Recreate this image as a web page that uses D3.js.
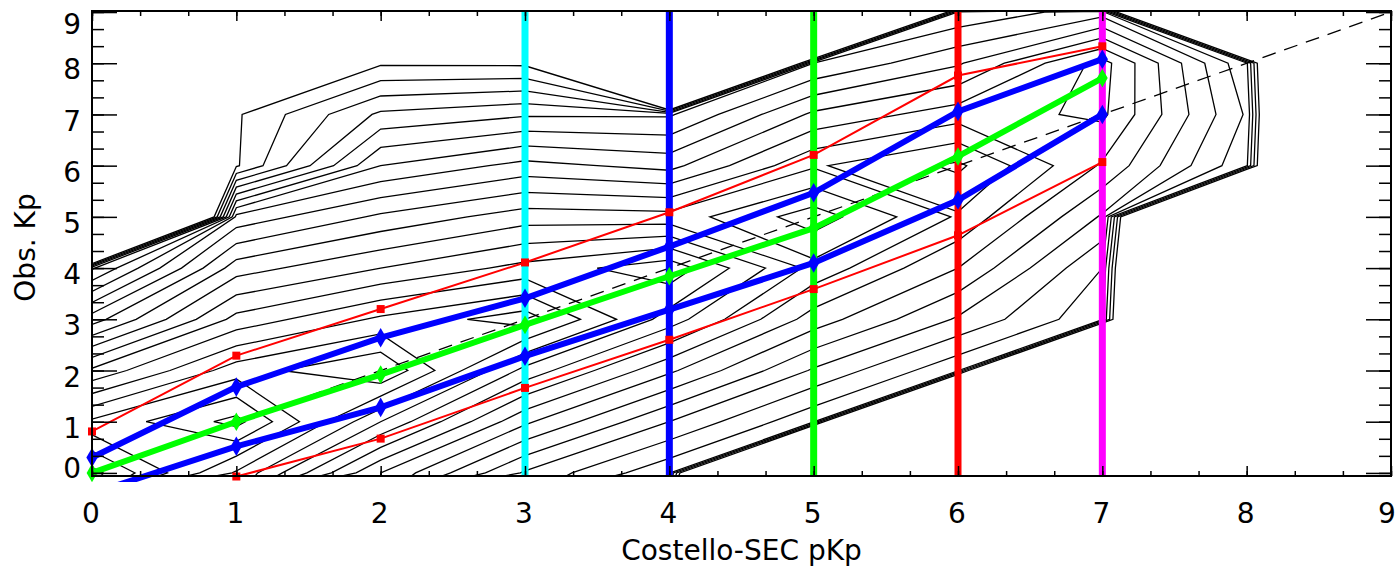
<!DOCTYPE html>
<html lang="en">
<head>
<meta charset="UTF-8">
<script src="https://d3js.org/d3.v7.min.js"></script>
<title>Obs. Kp vs Costello-SEC pKp</title>
<style>
  body { margin: 0; background: #fff; }
  svg { display: block; }
  text { font-family: "DejaVu Sans", sans-serif; fill: #000; }
</style>
</head>
<body>
<div id="chart"></div>
<script>
// empty bin (no samples) -> far below the lowest contour level
const E = -60;

// 2D histogram, contour units; rows = obs. Kp 0..10, columns = pKp 0..9
const pKpBins = [0, 1, 2, 3, 4, 5, 6, 7, 8, 9];
const kpBins = [0, 1, 2, 3, 4, 5, 6, 7, 8, 9, 10];
const counts = [
  [31,   24.3, 15.5,  9.3,  5.3,  E,    E,    E,    E,   E],
  [26.3, 29.5, 21.5, 14.3,  9.5,  5.3,  E,    E,    E,   E],
  [20.3, 25.3, 27.5, 19.5, 14.3,  9.3,  5.3,  E,    E,   E],
  [13.3, 20.5, 23.3, 25.3, 19.3, 13.3,  9.3,  5.3,  E,   E],
  [ 6.3, 16.3, 18.5, 20.5, 22.5, 16.5, 12.5,  6.5,  E,   E],
  [ E,   11.5, 14.3, 16.3, 16.1, 19.3, 15.3,  9.3,  E,   E],
  [ E,    0.3,  9.5, 11.5, 10.5, 15.3, 17.3, 12.3,  5.3, E],
  [ E,    0.3,  5.3,  6.3,  6.3, 11.3, 13.3, 14.3,  6.3, E],
  [ E,    E,    0.3,  0.2,  E,    6.5,  9.3, 14.6,  5.3, E],
  [ E,    E,    E,    E,    E,    E,    5.3,  7.3,  E,   E],
  [ E,    E,    E,    E,    E,    E,    E,    E,    E,   E]
];
const levels = [0.5, 2, 3.5, 5, 6.5, 8, 9.5, 11, 12.5, 14, 15.5, 17, 18.5,
                20, 21.5, 23, 24.5, 26, 27.5, 29, 30.5];

// percentiles of obs. Kp per pKp
const pKp = [0, 1, 2, 3, 4, 5, 6, 7];
const median      = [0.0,  1.0,  1.92, 2.89, 3.84, 4.78, 6.18, 7.71];
const upperQuart  = [0.3,  1.68, 2.64, 3.41, 4.42, 5.47, 7.06, 8.08];
const lowerQuart  = [-0.4, 0.52, 1.28, 2.28, 3.19, 4.1,  5.33, 7.0];
const upperDecile = [0.81, 2.29, 3.2,  4.11, 5.09, 6.21, 7.76, 8.33];
const lowerDecile = [null, -0.07, 0.67, 1.66, 2.6, 3.59, 4.64, 6.07];

const cutValues = [3, 4, 5, 6, 7];
const cutColors = ["#00ffff", "#0000ff", "#00ff00", "#ff0000", "#ff00ff"];

const xTicks = [0, 1, 2, 3, 4, 5, 6, 7, 8, 9];
const yTicks = [0, 1, 2, 3, 4, 5, 6, 7, 8, 9];

const width = 1399, height = 567;
const plotL = 92, plotR = 1391, plotT = 11, plotB = 476;

const svg = d3.select("#chart").append("svg")
    .attr("width", width)
    .attr("height", height);

const x = d3.scaleLinear().domain([0, 9]).range([plotL, plotR]);
const y = d3.scaleLinear().domain([-0.06, 9.02]).range([plotB, plotT]);

const defs = svg.append("defs");
defs.append("clipPath").attr("id", "plotClip")
    .append("rect")
    .attr("x", plotL).attr("y", plotT)
    .attr("width", plotR - plotL).attr("height", plotB - plotT);
defs.append("clipPath").attr("id", "overClip")
    .append("rect")
    .attr("x", plotL - 6).attr("y", plotT)
    .attr("width", plotR - plotL + 6).attr("height", plotB - plotT + 6);

// contours
const grid = d3.contours()
    .size([pKpBins.length, kpBins.length])
    .thresholds(levels)(counts.flat());

const toPlot = d3.geoTransform({
  point(u, v) { this.stream.point(x(u - 0.5), y(v - 0.5)); }
});
const contourPath = d3.geoPath(toPlot);

svg.append("g")
    .attr("clip-path", "url(#plotClip)")
  .selectAll("path")
  .data(grid)
  .enter()
  .append("path")
    .attr("d", contourPath)
    .attr("fill", "none")
    .attr("stroke", "#000")
    .attr("stroke-width", 1.3);

// y = x reference
svg.append("line")
    .attr("clip-path", "url(#plotClip)")
    .attr("x1", x(0)).attr("y1", y(0))
    .attr("x2", x(9)).attr("y2", y(9))
    .attr("stroke", "#000")
    .attr("stroke-width", 1.3)
    .attr("stroke-dasharray", "14,9");

// vertical pKp markers
svg.append("g")
  .selectAll("line")
  .data(cutValues)
  .enter()
  .append("line")
    .attr("x1", d => x(d)).attr("x2", d => x(d))
    .attr("y1", plotT).attr("y2", plotB)
    .attr("stroke", (d, i) => cutColors[i])
    .attr("stroke-width", 7);

// percentile curves
const series = [
  { values: upperDecile, color: "#ff0000", width: 2, symbol: d3.symbolSquare, size: 64 },
  { values: lowerDecile, color: "#ff0000", width: 2, symbol: d3.symbolSquare, size: 64 },
  { values: upperQuart, color: "#0000ff", width: 6, symbol: d3.symbolDiamond, size: 110 },
  { values: lowerQuart, color: "#0000ff", width: 6, symbol: d3.symbolDiamond, size: 110 },
  { values: median, color: "#00ff00", width: 6, symbol: d3.symbolDiamond, size: 100 }
];

const over = svg.append("g").attr("clip-path", "url(#overClip)");

const line = d3.line()
    .defined(d => d[1] !== null)
    .x(d => x(d[0]))
    .y(d => y(d[1]));

series.forEach(s => {
  const pts = pKp.map((p, i) => [p, s.values[i]]);
  over.append("path")
      .attr("d", line(pts))
      .attr("fill", "none")
      .attr("stroke", s.color)
      .attr("stroke-width", s.width);
  over.selectAll(null)
      .data(pts.filter(d => d[1] !== null))
      .enter()
      .append("path")
      .attr("transform", d => `translate(${x(d[0])},${y(d[1])})`)
      .attr("d", d3.symbol().type(s.symbol).size(s.size))
      .attr("fill", s.color);
});

// frame and ticks (inward, thirds as minor)
const minor = d3.range(0, 28).map(i => i / 3);

function ticks(axis, values, size, transform) {
  svg.append("g")
      .attr("transform", transform)
      .call(axis.tickValues(values).tickSize(size).tickFormat(""))
      .call(g => g.select(".domain").remove())
      .selectAll("line")
      .attr("stroke", "#000")
      .attr("stroke-width", 1.5);
}

ticks(d3.axisBottom(x), xTicks, -10, `translate(0,${plotB})`);
ticks(d3.axisBottom(x), minor, -5, `translate(0,${plotB})`);
ticks(d3.axisTop(x), xTicks, -10, `translate(0,${plotT})`);
ticks(d3.axisTop(x), minor, -5, `translate(0,${plotT})`);
ticks(d3.axisLeft(y), yTicks, -25, `translate(${plotL},0)`);
ticks(d3.axisLeft(y), minor, -12, `translate(${plotL},0)`);
ticks(d3.axisRight(y), yTicks, -25, `translate(${plotR},0)`);
ticks(d3.axisRight(y), minor, -12, `translate(${plotR},0)`);

svg.append("rect")
    .attr("x", plotL).attr("y", plotT)
    .attr("width", plotR - plotL).attr("height", plotB - plotT)
    .attr("fill", "none")
    .attr("stroke", "#000")
    .attr("stroke-width", 2);

// tick labels
svg.append("g")
  .selectAll("text")
  .data(xTicks)
  .enter()
  .append("text")
    .attr("x", d => x(d) - (d === 9 ? 4 : 1))
    .attr("y", 523)
    .attr("text-anchor", "middle")
    .attr("font-size", 28)
    .text(d => d);

svg.append("g")
  .selectAll("text")
  .data(yTicks)
  .enter()
  .append("text")
    .attr("x", 81)
    .attr("y", d => Math.min(Math.max(y(d) + 6, 24), 468))
    .attr("dy", "0.36em")
    .attr("text-anchor", "end")
    .attr("font-size", 28)
    .text(d => d);

// axis titles
svg.append("text")
    .attr("x", (plotL + plotR) / 2)
    .attr("y", 560)
    .attr("text-anchor", "middle")
    .attr("font-size", 28)
    .text("Costello-SEC pKp");

svg.append("text")
    .attr("transform", `translate(35,${(plotT + plotB) / 2 + 4}) rotate(-90)`)
    .attr("text-anchor", "middle")
    .attr("font-size", 28)
    .text("Obs. Kp");
</script>
</body>
</html>
